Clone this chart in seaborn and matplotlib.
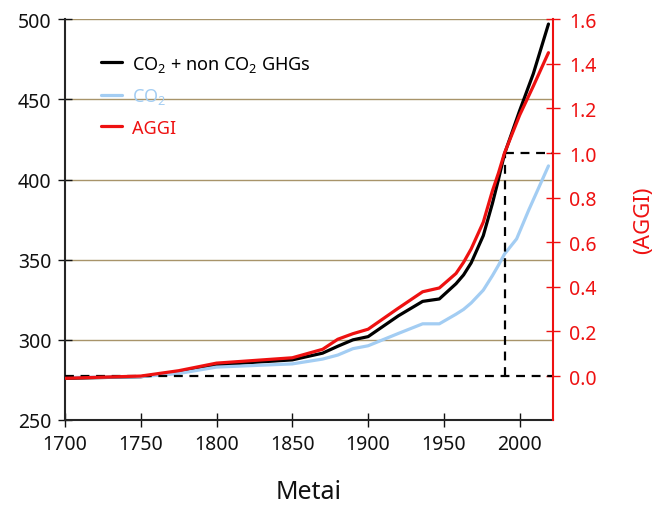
import numpy as np
import pandas as pd
import matplotlib
matplotlib.use("Agg")
import matplotlib.pyplot as plt
import seaborn as sns

# 値
years_ghg = [1700, 1750, 1775, 1800, 1825, 1850, 1870, 1880, 1890, 1900, 1920,
             1936, 1947, 1958, 1963, 1968, 1976, 1982, 1986, 1990, 2000, 2009, 2019]
co2_eq = [276, 277, 280, 284.2, 286, 287.5, 291.7, 296, 300, 302, 315,
          324, 325.5, 335, 340.5, 348, 365, 385, 400, 416, 443, 466, 497]

years_co2 = [1700, 1750, 1775, 1800, 1825, 1850, 1870, 1880, 1890, 1900, 1920,
             1936, 1947, 1958, 1963, 1968, 1976, 1982, 1986, 1990, 1998, 2006, 2019]
co2 = [276.5, 277, 279, 283, 284, 285, 288, 290.5, 294.5, 296.3, 304,
       310, 310, 316, 319, 323, 331, 340, 346.5, 353.5, 363, 381, 408.5]

years_aggi = [1700, 1750, 1775, 1800, 1825, 1850, 1870, 1880, 1890, 1900, 1919,
              1936, 1947, 1958, 1963, 1968, 1976, 1982, 1986, 1990, 2000, 2009, 2019]
aggi = [-0.01, 0.0, 0.024, 0.058, 0.07, 0.082, 0.12, 0.165, 0.19, 0.21, 0.30,
        0.378, 0.395, 0.46, 0.51, 0.57, 0.69, 0.83, 0.91, 1.0, 1.17, 1.30, 1.45]

ref_year = 1990
aggi_base = 0.0
aggi_ref = 1.0

left_ticks = [250, 300, 350, 400, 450, 500]
right_ticks = [0.0, 0.2, 0.4, 0.6, 0.8, 1.0, 1.2, 1.4, 1.6]
right_labels = ["0.0", "0.2", "0.4", "0.6", "0.8", "1.0", "1.2", "1.4", "1.6"]
x_ticks = [1700, 1750, 1800, 1850, 1900, 1950, 2000]

sub2 = r"$_{\mathregular{2}}$"
labels = ["CO" + sub2 + " + non CO" + sub2 + " GHGs", "CO" + sub2, "AGGI"]
colors = ["#000000", "#a3cdf3", "#ee1111"]


def main():
    sns.set_theme(style="ticks")
    plt.rcParams['font.family'] = 'Noto Sans'
    plt.rcParams['mathtext.fontset'] = 'custom'
    plt.rcParams['mathtext.rm'] = 'Noto Sans'

    fig = plt.figure(figsize=(6.56, 5.06), dpi=100)
    ax = fig.add_axes([0.099, 0.168, 0.744, 0.792])
    ax2 = ax.twinx()

    df_ghg = pd.DataFrame({"year": years_ghg, "value": co2_eq})
    df_co2 = pd.DataFrame({"year": years_co2, "value": co2})
    df_aggi = pd.DataFrame({"year": years_aggi, "value": aggi})

    # 左軸の線
    sns.lineplot(data=df_ghg, x="year", y="value", ax=ax, color=colors[0], lw=2.3,
                 label=labels[0], legend=False)
    sns.lineplot(data=df_co2, x="year", y="value", ax=ax, color=colors[1], lw=2.3,
                 label=labels[1], legend=False)
    # 右軸（AGGI）
    sns.lineplot(data=df_aggi, x="year", y="value", ax=ax2, color=colors[2], lw=2.3,
                 label=labels[2], legend=False, zorder=3)

    # 破線（1990年 = 1）
    dash = dict(color="black", lw=1.6, linestyles=(0, (4, 3)), zorder=2)
    ax2.hlines(aggi_base, 1700, 2022, **dash)
    ax2.vlines(ref_year, aggi_base, aggi_ref, **dash)
    ax2.hlines(aggi_ref, ref_year, 2022, **dash)

    # 左軸・x軸
    ax.set_xlim(1700, 2022)
    ax.set_ylim(250, 500)
    ax.set_xticks(x_ticks)
    ax.set_yticks(left_ticks)
    for v in left_ticks[1:]:
        ax.axhline(v, color="#a8946a", lw=1, zorder=0)
    ax.set_xlabel("Metai", fontsize=18, labelpad=18, color="#111111")
    ax.set_ylabel("")
    ax.tick_params(axis="x", direction="inout", length=9.5, width=1.0,
                   labelsize=14, colors="#111111", pad=5)
    ax.tick_params(axis="y", direction="inout", length=9.5, width=1.0,
                   labelsize=14, colors="#111111", pad=5)
    ax.spines["top"].set_visible(False)
    ax.spines["right"].set_visible(False)
    ax.spines["left"].set_linewidth(1.5)
    ax.spines["bottom"].set_linewidth(1.5)

    # 凡例
    h1, l1 = ax.get_legend_handles_labels()
    h2, l2 = ax2.get_legend_handles_labels()
    ax.legend(h1 + h2, l1 + l2, loc="upper left", bbox_to_anchor=(0.04, 0.955),
              frameon=False, fontsize=13, handlelength=1.2, handletextpad=0.55,
              labelspacing=0.7, labelcolor="linecolor")

    # 右軸（AGGI）
    ax2.set_ylim(-0.197, 1.6)
    ax2.set_yticks(right_ticks, labels=right_labels)
    ax2.set_ylabel("(AGGI)", fontsize=16, color=colors[2], labelpad=26)
    ax2.tick_params(axis="y", direction="inout", length=9.5, width=1.0,
                    labelsize=14, colors=colors[2], pad=7)
    ax2.spines["top"].set_visible(False)
    ax2.spines["left"].set_visible(False)
    ax2.spines["bottom"].set_visible(False)
    ax2.spines["right"].set_color(colors[2])
    ax2.spines["right"].set_linewidth(1.5)

    fig.savefig("out.png", dpi=100)


if __name__ == "__main__":
    main()
